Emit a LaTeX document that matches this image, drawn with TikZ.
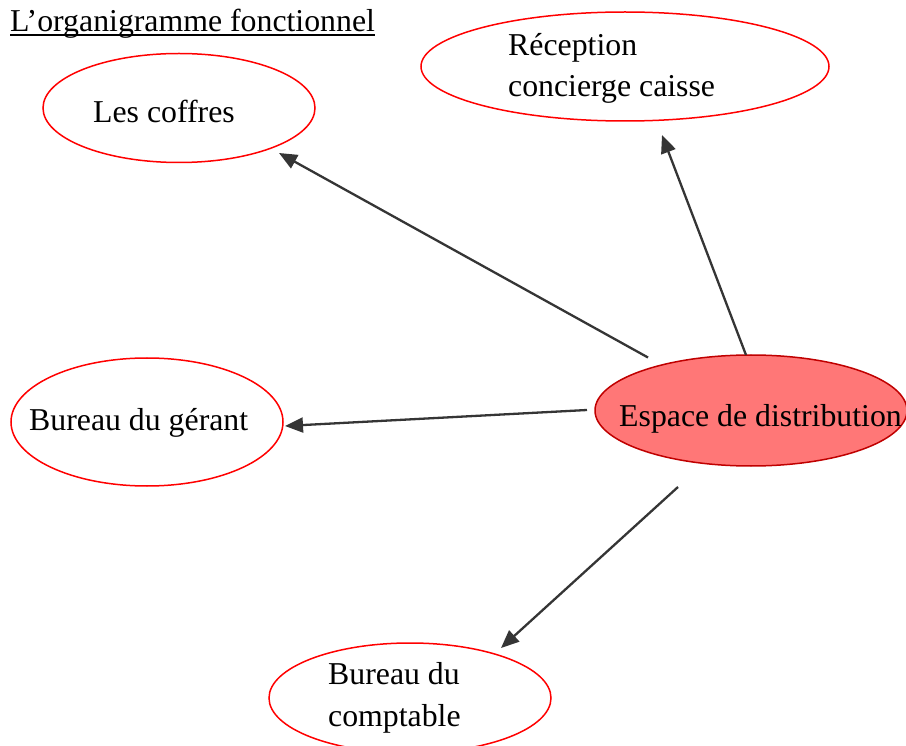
\documentclass[tikz,border=0pt]{standalone}
\usepackage{fontspec}
\setmainfont{Liberation Serif}
\usetikzlibrary{shapes.geometric,arrows.meta}
\definecolor{ellred}{HTML}{FF0000}
\definecolor{espfill}{HTML}{FF7777}
\definecolor{espdraw}{HTML}{C00000}
\definecolor{arrgray}{HTML}{353535}
\tikzset{
  oval/.style={ellipse, draw=ellred, line width=1.5pt, inner sep=0pt},
  espoval/.style={ellipse, draw=espdraw, fill=espfill, line width=1.5pt, inner sep=0pt},
  lbl/.style={anchor=base west, inner sep=0pt, font=\fontsize{31.8}{42}\selectfont},
  link/.style={draw=arrgray, line width=2.3pt, -{Triangle[length=18pt,width=15pt]}}
}
\begin{document}
\begin{tikzpicture}[x=1pt,y=-1pt]
\useasboundingbox (0,0) rectangle (906,746);
% ellipses
\node[oval, minimum width=272pt, minimum height=109pt] (coffres) at (179,108) {};
\node[oval, minimum width=408pt, minimum height=109pt] (reception) at (625,66.5) {};
\node[oval, minimum width=272pt, minimum height=128pt] (gerant) at (147,422) {};
\node[espoval, minimum width=312pt, minimum height=111pt] (espace) at (751,410.5) {};
\node[oval, minimum width=282pt, minimum height=110pt] (comptable) at (410,698) {};
% texts
\node[lbl] (title) at (10,32) {L’organigramme fonctionnel};
\draw[line width=1.5pt] ([yshift=-3pt]title.base west) -- ([yshift=-3pt]title.base east);
\node[lbl] (tcoffres) at (93,123) {Les coffres};
\node[lbl] (trec1) at (508,56) {Réception};
\node[lbl] (trec2) at (508,97) {concierge caisse};
\node[lbl] (tgerant) at (29,431) {Bureau du gérant};
\node[lbl] (tespace) at (619,426) {Espace de distribution};
\node[lbl] (tcomp1) at (328,684) {Bureau du};
\node[lbl] (tcomp2) at (328,726) {comptable};
% connector ends
\coordinate (s1) at (648,357.5);
\coordinate (e1) at (279,153);
\coordinate (s2) at (746,355);
\coordinate (e2) at (662,135);
\coordinate (s3) at (587,410);
\coordinate (e3) at (285,426);
\coordinate (s4) at (678,487);
\coordinate (e4) at (501,648);
\draw[link] (s1) -- (e1);
\draw[link] (s2) -- (e2);
\draw[link] (s3) -- (e3);
\draw[link] (s4) -- (e4);
\end{tikzpicture}
\end{document}
